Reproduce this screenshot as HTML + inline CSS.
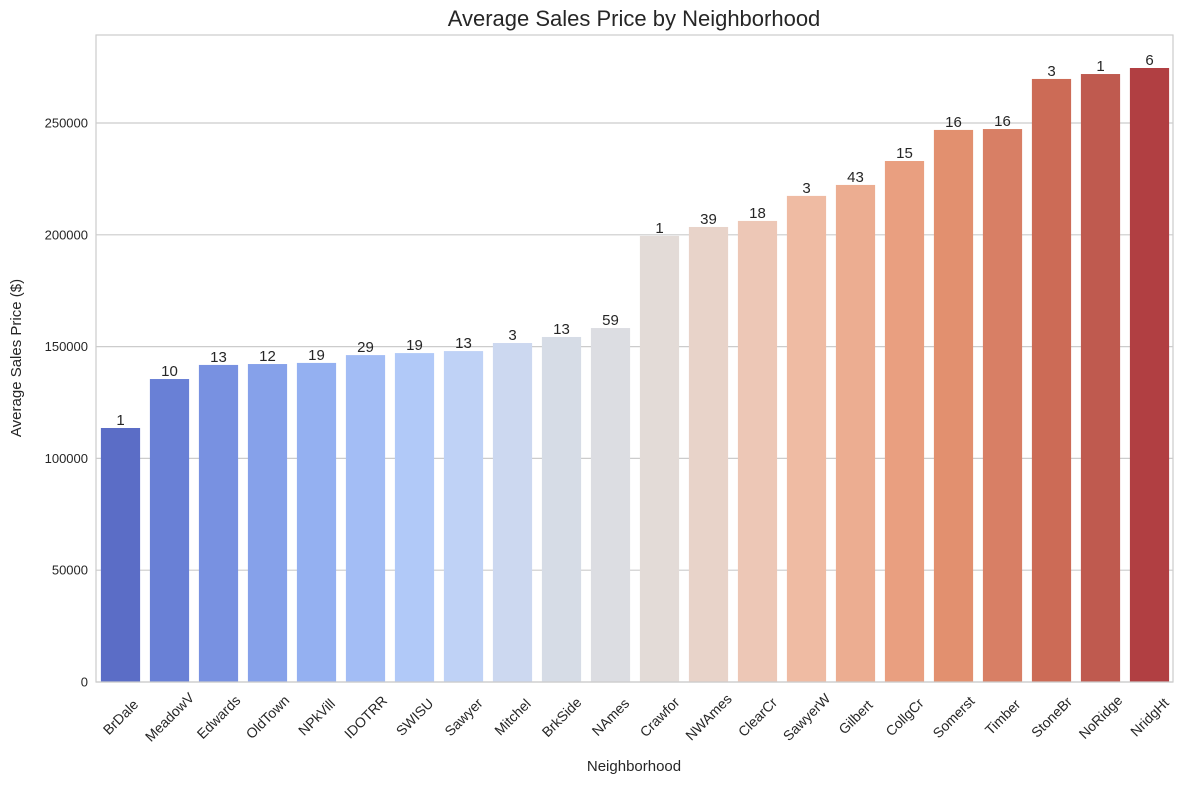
<!DOCTYPE html>
<html><head><meta charset="utf-8"><style>
body{margin:0;background:#fff;font-family:"Liberation Sans",sans-serif;}
</style></head><body>
<svg id="chart" width="1181" height="784" xmlns="http://www.w3.org/2000/svg" font-family="Liberation Sans, sans-serif">
<text x="634" y="26" text-anchor="middle" font-size="22" fill="#262626">Average Sales Price by Neighborhood</text>
<text transform="translate(21,358) rotate(-90)" text-anchor="middle" font-size="15" fill="#262626">Average Sales Price ($)</text>
<text x="634" y="771" text-anchor="middle" font-size="15" fill="#262626">Neighborhood</text>
<g id="grid"></g><g id="bars"></g><g id="labels"></g>
<rect x="96" y="35" width="1077" height="647" fill="none" stroke="#cccccc" stroke-width="1.2"/>
</svg>
<script>
const categories=["BrDale","MeadowV","Edwards","OldTown","NPkVill","IDOTRR","SWISU","Sawyer","Mitchel","BrkSide","NAmes","Crawfor","NWAmes","ClearCr","SawyerW","Gilbert","CollgCr","Somerst","Timber","StoneBr","NoRidge","NridgHt"];
const prices=[113600,135500,141800,142200,142700,146200,147100,148000,151600,154300,158300,199500,203500,206200,217400,222300,233000,246900,247300,269700,271900,274600];
const counts=[1,10,13,12,19,29,19,13,3,13,59,1,39,18,3,43,15,16,16,3,1,6];
const yTicks=[0,50000,100000,150000,200000,250000];
const colors=["#5b6dc6","#6980d6","#7891e1","#86a1ea","#94b0f1","#a3bdf5","#b1c9f8","#bfd2f6","#ccd8f0","#d6dce6","#dcdde2","#e3dbd7","#e8d3c9","#edc7b6","#efbba3","#ecad91","#e99f80","#e2906f","#d87f65","#cc6b56","#bf5a4f","#b13f42"];
const NS="http://www.w3.org/2000/svg";
const x0=96,band=49,yBase=682,k=559/250000;
const y=v=>yBase-v*k;
const xc=i=>x0+band*(i+0.5);
function mk(tag,attrs,parent,text){const e=document.createElementNS(NS,tag);for(const a in attrs)e.setAttribute(a,attrs[a]);if(text!==undefined)e.textContent=text;document.getElementById(parent).appendChild(e);return e;}
yTicks.forEach(t=>{
 const l=mk("line",{x1:96,x2:1173,y1:y(t),y2:y(t),stroke:"#cccccc","stroke-width":1.2},"grid");
 
 
 const tx=mk("text",{x:88,y:y(t)+4.5,"text-anchor":"end","font-size":13,fill:"#262626"},"labels",String(t));
 
 
});
categories.forEach((c,i)=>{
 const w=band*0.8;
 const r=mk("rect",{x:xc(i)-w/2,y:y(prices[i]),width:w,height:yBase-y(prices[i]),fill:colors[i]},"bars");
 
 
 const v=mk("text",{x:xc(i),y:y(prices[i])-3,"text-anchor":"middle","font-size":15,fill:"#262626"},"labels",String(counts[i]));
 
 
 const tl=mk("text",{transform:`translate(${xc(i)},${yBase+35}) rotate(-45)`,"text-anchor":"middle","dominant-baseline":"central","font-size":14,fill:"#262626"},"labels",c);
 
 
});
</script>
</body></html>
